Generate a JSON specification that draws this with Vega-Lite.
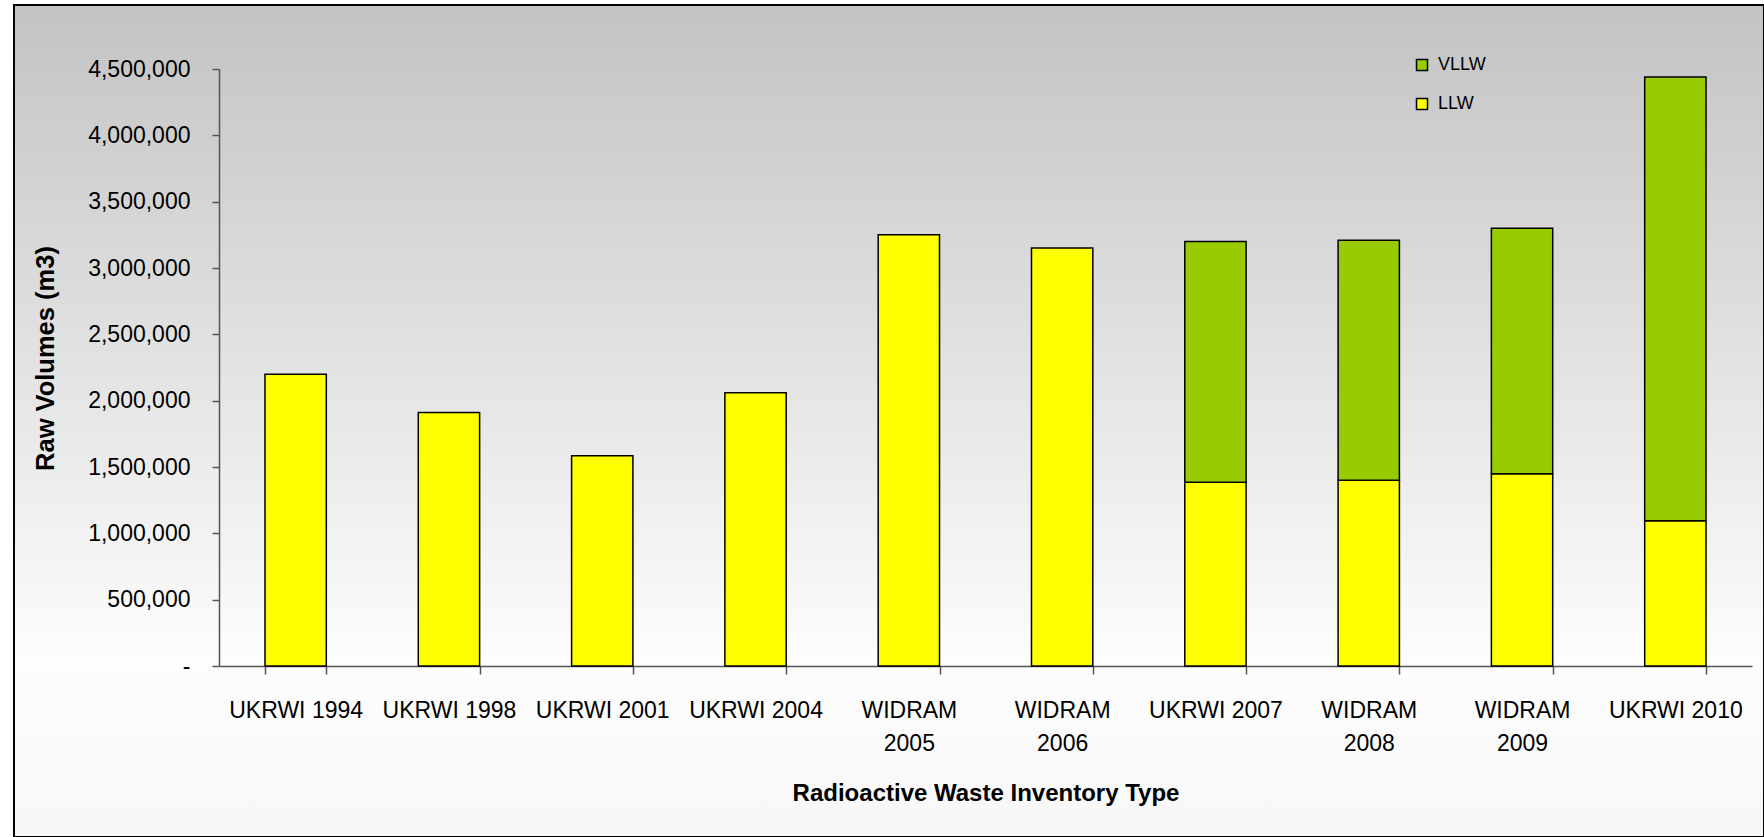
{
  "$schema": "https://vega.github.io/schema/vega-lite/v6.json",
  "width": 1750,
  "height": 832,
  "autosize": {"type": "none"},
  "padding": {"left": 14, "top": 5, "right": 0, "bottom": 0},
  "background": "#ffffff",
  "config": {
    "view": {
      "fill": {"gradient": "linear", "x1": 0, "y1": 0, "x2": 0, "y2": 1,
        "stops": [{"offset": 0, "color": "#c3c3c3"}, {"offset": 0.79, "color": "#fdfdfd"}, {"offset": 1, "color": "#f7f7f7"}]},
      "stroke": "#000000",
      "strokeWidth": 2
    },
    "font": "Liberation Sans, Arial, sans-serif"
  },
  "data": {
    "values": [
      {"inventory": "UKRWI 1994", "type": "LLW", "volume": 2200000},
      {"inventory": "UKRWI 1998", "type": "LLW", "volume": 1910000},
      {"inventory": "UKRWI 2001", "type": "LLW", "volume": 1585000},
      {"inventory": "UKRWI 2004", "type": "LLW", "volume": 2060000},
      {"inventory": "WIDRAM 2005", "type": "LLW", "volume": 3250000},
      {"inventory": "WIDRAM 2006", "type": "LLW", "volume": 3150000},
      {"inventory": "UKRWI 2007", "type": "LLW", "volume": 1385000},
      {"inventory": "UKRWI 2007", "type": "VLLW", "volume": 1815000},
      {"inventory": "WIDRAM 2008", "type": "LLW", "volume": 1400000},
      {"inventory": "WIDRAM 2008", "type": "VLLW", "volume": 1810000},
      {"inventory": "WIDRAM 2009", "type": "LLW", "volume": 1450000},
      {"inventory": "WIDRAM 2009", "type": "VLLW", "volume": 1850000},
      {"inventory": "UKRWI 2010", "type": "LLW", "volume": 1095000},
      {"inventory": "UKRWI 2010", "type": "VLLW", "volume": 3345000}
    ]
  },
  "mark": {"type": "bar", "stroke": "#000000", "strokeWidth": 1.5},
  "encoding": {
    "x": {
      "field": "inventory",
      "type": "nominal",
      "sort": null,
      "scale": {"range": [205, 1738], "paddingInner": 0.6, "paddingOuter": 0.3},
      "axis": {
        "title": "Radioactive Waste Inventory Type",
        "offset": -171,
        "labelAngle": 0,
        "tickBand": "extent",
        "tickSize": 8,
        "labelPadding": 25,
        "labelFontSize": 23,
        "labelLineHeight": 33,
        "labelBaseline": "top",
        "labelLimit": 0,
        "labelExpr": "test(/^WIDRAM/, datum.label) ? split(datum.label, ' ') : datum.label",
        "labelColor": "#000000",
        "domainColor": "#555555",
        "domainWidth": 1.5,
        "tickColor": "#555555",
        "tickWidth": 1.5,
        "titleFontSize": 24,
        "titleFontWeight": "bold",
        "titleColor": "#000000",
        "titleY": 134,
        "titleBaseline": "alphabetic"
      }
    },
    "y": {
      "field": "volume",
      "type": "quantitative",
      "stack": "zero",
      "scale": {"domain": [0, 4500000], "range": [661, 64], "nice": false},
      "axis": {
        "title": "Raw Volumes (m3)",
        "offset": -205,
        "values": [0, 500000, 1000000, 1500000, 2000000, 2500000, 3000000, 3500000, 4000000, 4500000],
        "labelExpr": "datum.value == 0 ? '-\u00a0\u00a0\u00a0' : format(datum.value, ',')",
        "labelFontSize": 23,
        "labelPadding": 22,
        "labelColor": "#000000",
        "tickSize": 7,
        "grid": false,
        "domainColor": "#555555",
        "domainWidth": 1.5,
        "tickColor": "#555555",
        "tickWidth": 1.5,
        "titleFontSize": 25.5,
        "titleFontWeight": "bold",
        "titleColor": "#000000",
        "titleX": -166,
        "titleY": 353,
        "titleAngle": -90,
        "titleAlign": "center",
        "titleBaseline": "alphabetic"
      }
    },
    "color": {
      "field": "type",
      "type": "nominal",
      "scale": {"domain": ["VLLW", "LLW"], "range": ["#99CC00", "#FFFF00"]},
      "legend": {
        "title": null,
        "orient": "none",
        "legendX": 1399,
        "legendY": 51,
        "padding": 0,
        "symbolType": "square",
        "symbolSize": 121,
        "symbolStrokeColor": "#000000",
        "symbolStrokeWidth": 1.5,
        "symbolOpacity": 1,
        "labelFontSize": 18,
        "labelColor": "#000000",
        "labelOffset": 7,
        "rowPadding": 21
      }
    },
    "order": {"field": "type", "sort": "ascending"}
  }
}
